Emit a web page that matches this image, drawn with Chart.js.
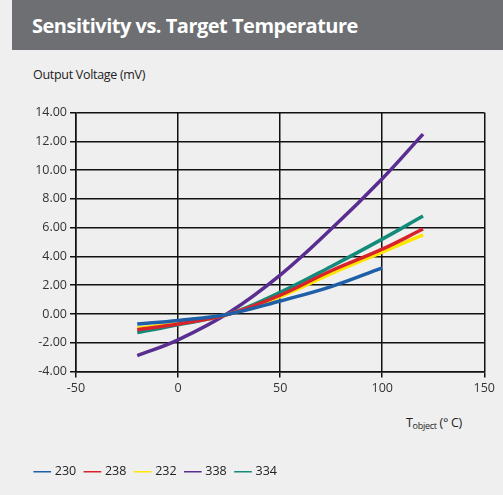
<!DOCTYPE html>
<html>
<head>
<meta charset="utf-8">
<script src="https://cdn.jsdelivr.net/npm/chart.js@4"></script>
<style>
  body { margin: 0; width: 503px; height: 495px; background: #efefef; font-family: "Open Sans", sans-serif; position: relative; overflow: hidden; }
  .title { position: absolute; left: 12px; top: 0; width: 491px; height: 50px; background: #6d6f72; color: #fff; font-weight: bold; font-size: 20px; line-height: 52px; padding-left: 20px; box-sizing: border-box; letter-spacing: -0.5px; }
  .ylab { position: absolute; left: 33px; top: 66px; font-size: 12.5px; color: #222; letter-spacing: -0.3px; }
  .xlab { position: absolute; left: 406px; top: 414px; font-size: 12.5px; color: #222; letter-spacing: -0.3px; }
  .xlab sub { font-size: 9px; vertical-align: -2px; }
  #wrap { position: absolute; left: 26px; top: 102px; width: 472px; height: 386px; }
</style>
</head>
<body>
<div class="title">Sensitivity vs. Target Temperature</div>
<div class="ylab">Output Voltage (mV)</div>
<div class="xlab">T<sub>object</sub> (° C)</div>
<div id="wrap"><canvas id="chart"></canvas></div>
<script>
// temperatures (°C) and output voltages (mV)
const temps = [-20, 0, 25, 50, 75, 100, 120];
const s230 = [-0.7, -0.45, 0.0, 0.9, 1.9, 3.2];
const s238 = [-1.1, -0.7, 0.0, 1.3, 3.0, 4.5, 5.9];
const s232 = [-1.0, -0.65, 0.0, 1.2, 2.8, 4.3, 5.5];
const s338 = [-2.9, -1.8, 0.1, 2.7, 5.9, 9.4, 12.5];
const s334 = [-1.3, -0.75, 0.0, 1.5, 3.3, 5.2, 6.8];
const seriesNames = ['230', '238', '232', '338', '334'];
const seriesColors = ['#1f5fa8', '#d8232a', '#ffe600', '#5a2d91', '#138a7a'];
const seriesData = [s230, s238, s232, s338, s334];

const pts = vals => vals.map((v, i) => ({ x: temps[i], y: v }));

new Chart(document.getElementById('chart'), {
  type: 'scatter',
  data: {
    datasets: seriesNames.map((n, i) => ({
      label: n,
      data: pts(seriesData[i]),
      showLine: true,
      borderColor: seriesColors[i],
      backgroundColor: seriesColors[i],
      borderWidth: 3.5,
      pointRadius: 0,
      tension: 0.4
    }))
  },
  options: {
    animation: false,
    responsive: true,
    maintainAspectRatio: false,
    layout: { padding: { right: 4, left: 0 } },
    plugins: {
      legend: {
        position: 'bottom',
        align: 'start',
        labels: {
          usePointStyle: true, pointStyle: 'line', boxWidth: 14, padding: 10, color: '#222',
          font: { family: 'Open Sans', size: 12.5 },
          generateLabels: ch => ch.data.datasets.map((d, i) => ({
            text: d.label, strokeStyle: d.borderColor, fillStyle: d.borderColor,
            lineWidth: 1.5, pointStyle: 'line', datasetIndex: i, fontColor: '#222'
          }))
        }
      },
      tooltip: { enabled: false }
    },
    scales: {
      x: {
        min: -50, max: 150,
        ticks: { stepSize: 50, color: '#333', font: { family: 'Open Sans', size: 12.5 } },
        grid: { color: '#111', lineWidth: 1.5, tickLength: 6 },
        border: { color: '#111', width: 1.5 },
        afterFit: s => { s.height = 84; }
      },
      y: {
        min: -4, max: 14,
        ticks: { stepSize: 2, color: '#333', font: { family: 'Open Sans', size: 12.5 }, callback: v => v.toFixed(2) },
        grid: { color: '#111', lineWidth: 1.5, tickLength: 6 },
        border: { color: '#111', width: 1.5 },
        afterFit: s => { s.width = 50; }
      }
    }
  }
});
</script>
</body>
</html>
